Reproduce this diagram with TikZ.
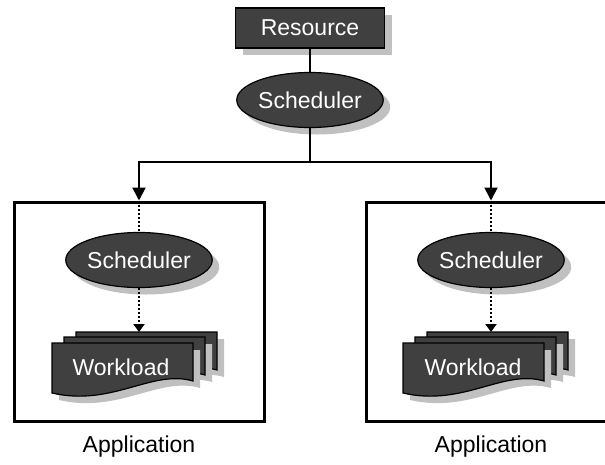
\documentclass[tikz,border=0pt]{standalone}
\usepackage{fontspec}
\setmainfont{Liberation Sans}
\usetikzlibrary{shapes.geometric,shadows,positioning,arrows.meta}
\definecolor{boxgray}{RGB}{64,64,64}
\definecolor{shadegray}{RGB}{192,192,192}

% one sheet of the workload stack, named by its top left corner
\newcommand{\docpage}[2]{%
	\coordinate (#1) at #2;
	\draw[wlpage,shift={#2}] (0,0) -- (141,0) -- (141,38) .. controls (100,26) and (60,64) .. (0,50) -- cycle;}

\begin{document}
\begin{tikzpicture}[x=1pt,y=-1pt]
				\tikzstyle{every node}=[font=\fontsize{23}{27}\selectfont]
				\tikzstyle{dropgray}=[drop shadow={shadow xshift=7pt,shadow yshift=-7pt,fill=shadegray,opacity=1}]
				\tikzstyle{res}=[rectangle,draw,line width=1.2pt,fill=boxgray,text=white,
				minimum width=149pt,minimum height=40pt,dropgray]
				\tikzstyle{sched}=[ellipse,draw,line width=1.2pt,fill=boxgray,text=white,
				minimum width=142pt,minimum height=55pt,inner sep=0pt,dropgray]
				\tikzstyle{wlpage}=[draw,line width=1.2pt,fill=boxgray,dropgray]
				\tikzstyle{app}=[rectangle,draw,line width=3pt,minimum width=250pt,minimum height=219pt]
				\tikzstyle{flow}=[line width=2pt,-{Triangle[width=13pt,length=13pt]}]
				\tikzstyle{dots}=[line width=2pt,dash pattern=on 2pt off 2pt]
				\useasboundingbox (0,0) rectangle (605,464);
				\clip (0,0) rectangle (605,464);
				% top level
				\node[res] (res) at (310,28) {Resource};
				\node[sched] (top) at (310,100) {Scheduler};
				\coordinate (split) at (310,162);
				% applications
				\node[app] (appL) at (139,311.5) {};
				\node[app] (appR) at (491,311.5) {};
				\node (labL) at (139,447) {Application};
				\node (labR) at (491,447) {Application};
				% left application
				\node[sched] (schL) at (139,260) {Scheduler};
				\docpage{bkL}{(76,332)}
				\docpage{mdL}{(64,337)}
				\docpage{ftL}{(52,343)}
				\node[text=white] (wlL) at (121,367) {Workload};
				% right application
				\node[sched] (schR) at (491,260) {Scheduler};
				\docpage{bkR}{(427,332)}
				\docpage{mdR}{(415,337)}
				\docpage{ftR}{(403,343)}
				\node[text=white] (wlR) at (473,367) {Workload};
				% connectors
				\draw[line width=2pt] (res) -- (top);
				\draw[line width=2pt] (top.south) -- (split);
				\draw[flow] (split) -| (appL.north);
				\draw[flow] (split) -| (appR.north);
				\draw[dots] (appL.north) -- (schL.north);
				\draw[dots] (appR.north) -- (schR.north);
				\draw[dots,-{Triangle[width=11pt,length=8pt]}] (schL.south) -- (schL.south |- bkL);
				\draw[dots,-{Triangle[width=11pt,length=8pt]}] (schR.south) -- (schR.south |- bkR);
\end{tikzpicture}
\end{document}
